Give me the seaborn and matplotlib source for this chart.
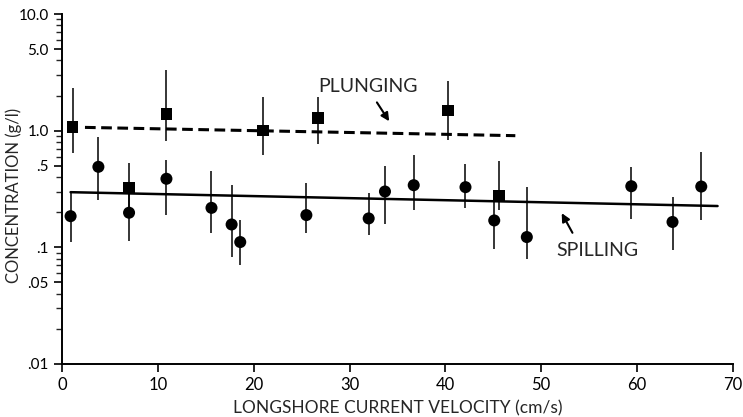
import numpy as np
import pandas as pd
import matplotlib
matplotlib.use("Agg")
import matplotlib.pyplot as plt
import matplotlib.ticker as mticker
import seaborn as sns

# Spilling breakers (circles): velocity (cm/s), concentration (g/l), error bar ends
spill_x = [0.9, 3.8, 7.0, 10.9, 15.6, 17.7, 18.6, 25.5, 32.0, 33.7, 36.7, 42.1, 45.1, 48.5, 59.4, 63.7, 66.7]
spill_y = [0.185, 0.49, 0.198, 0.387, 0.218, 0.157, 0.111, 0.189, 0.177, 0.301, 0.341, 0.328, 0.170, 0.1225, 0.334, 0.165, 0.332]
spill_lo = [0.111, 0.254, 0.113, 0.191, 0.134, 0.082, 0.070, 0.132, 0.127, 0.160, 0.208, 0.216, 0.096, 0.079, 0.176, 0.095, 0.171]
spill_hi = [0.297, 0.883, 0.313, 0.557, 0.449, 0.345, 0.171, 0.357, 0.294, 0.502, 0.624, 0.519, 0.243, 0.328, 0.489, 0.269, 0.652]

# Plunging breakers (squares)
plunge_x = [1.1, 7.0, 10.9, 21.0, 26.7, 40.3, 45.6]
plunge_y = [1.076, 0.324, 1.389, 1.006, 1.284, 1.491, 0.278]
plunge_lo = [0.649, 0.191, 0.81, 0.624, 0.774, 0.838, 0.211]
plunge_hi = [2.33, 0.530, 3.28, 1.94, 1.94, 2.64, 0.554]

# fitted trend lines
plunge_fit_x = [2.4, 47.3]
plunge_fit_y = [1.067, 0.906]
spill_fit_x = [0.9, 68.4]
spill_fit_y = [0.297, 0.226]

ytick_vals = [0.01, 0.05, 0.1, 0.5, 1.0, 5.0, 10.0]
ytick_labels = [".01", ".05", ".1", ".5", "1.0", "5.0", "10.0"]
xtick_vals = [0, 10, 20, 30, 40, 50, 60, 70]

sns.set_style("ticks")
plt.rcParams["font.family"] = ["Lato", "DejaVu Sans"]

spill = pd.DataFrame({"x": spill_x, "y": spill_y, "lo": spill_lo, "hi": spill_hi})
plunge = pd.DataFrame({"x": plunge_x, "y": plunge_y, "lo": plunge_lo, "hi": plunge_hi})

fig = plt.figure(figsize=(7.43, 4.17), dpi=100)
ax = fig.add_axes([0.0834, 0.1271, 0.903, 0.8393])

# error bars
ax.vlines(spill["x"], spill["lo"], spill["hi"], color="black", lw=1.1)
ax.vlines(plunge["x"], plunge["lo"], plunge["hi"], color="black", lw=1.1)

# trend lines
sns.lineplot(x=plunge_fit_x, y=plunge_fit_y, ax=ax, color="black", lw=2.2,
             linestyle=(0, (3.5, 1.8)))
sns.lineplot(x=spill_fit_x, y=spill_fit_y, ax=ax, color="black", lw=1.8)

# points
sns.scatterplot(data=spill, x="x", y="y", ax=ax, marker="o", s=75,
                color="black", edgecolor="none", zorder=5)
sns.scatterplot(data=plunge, x="x", y="y", ax=ax, marker="s", s=70,
                color="black", edgecolor="none", zorder=5)

ax.set_yscale("log")
ax.set_xlim(0, 70)
ax.set_ylim(0.01, 10)
ax.set_yticks(ytick_vals)
ax.set_yticklabels(ytick_labels)
ax.yaxis.set_minor_locator(mticker.LogLocator(base=10, subs=[2, 3, 4, 6, 7, 8, 9]))
ax.yaxis.set_minor_formatter(mticker.NullFormatter())
ax.set_xticks(xtick_vals)
ax.tick_params(axis="both", which="major", labelsize=11, length=6, width=1.2, colors="black")
ax.tick_params(axis="x", which="major", labelsize=12)
ax.tick_params(axis="y", which="minor", length=4, width=1.0)

for side in ["top", "right"]:
    ax.spines[side].set_visible(False)
for side in ["left", "bottom"]:
    ax.spines[side].set_linewidth(1.4)
    ax.spines[side].set_color("black")

ax.set_xlabel("LONGSHORE CURRENT VELOCITY (cm/s)", fontsize=12.5, labelpad=5)
ax.set_ylabel("CONCENTRATION (g/l)", fontsize=12)
ax.yaxis.set_label_coords(-0.06, 0.483)

ax.text(31.9, 2.39, "PLUNGING", ha="center", va="center", fontsize=14)
ax.annotate("", xy=(34.3, 1.15), xytext=(32.7, 1.83),
            arrowprops=dict(arrowstyle="-|>", color="black", lw=1.5, mutation_scale=12))
ax.text(55.9, 0.0946, "SPILLING", ha="center", va="center", fontsize=14)
ax.annotate("", xy=(52.0, 0.206), xytext=(53.4, 0.127),
            arrowprops=dict(arrowstyle="-|>", color="black", lw=1.5, mutation_scale=12))

plt.savefig("out.png", dpi=100)
